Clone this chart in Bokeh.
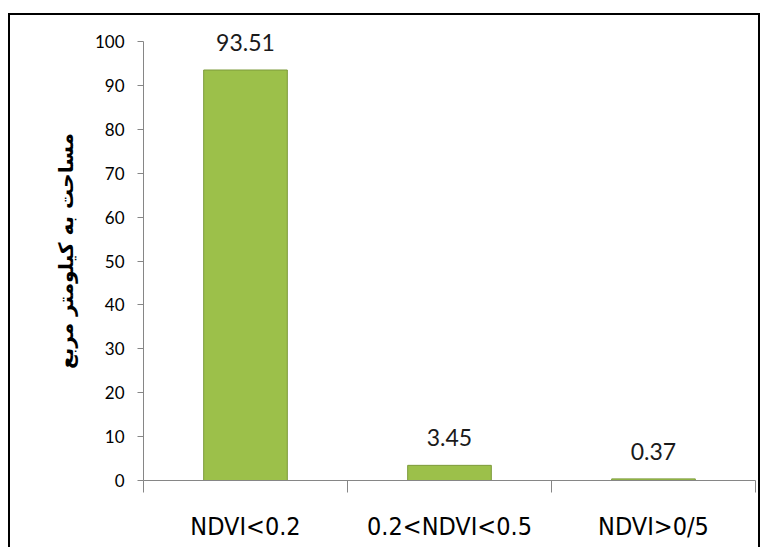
from bokeh.plotting import figure
from bokeh.models import ColumnDataSource, Range1d, FixedTicker, LabelSet
from bokeh.core.properties import value
from bokeh.embed import file_html
from bokeh.resources import INLINE

categories = ["NDVI<0.2", "0.2<NDVI<0.5", "NDVI>0/5"]
areas = [93.51, 3.45, 0.37]
area_labels = ["93.51", "3.45", "0.37"]
y_ticks = list(range(0, 101, 10))
y_title = "مساحت به کیلومتر مربع"

xs = [i + 0.5 for i in range(len(categories))]
src = ColumnDataSource(dict(x=xs, top=areas, lab=area_labels))

# frame extends a bit above 100 so the top data label is not clipped;
# the axis itself is bounded to 0..100
p = figure(width=752, height=534, output_backend="svg", toolbar_location=None,
           x_range=Range1d(0, len(categories)), y_range=Range1d(0, 104.56),
           min_border_left=133, min_border_right=7, min_border_top=6, min_border_bottom=69)
p.margin = (13, 0, 0, 8)
p.styles = {"border": "2px solid black", "border-bottom": "none"}
p.outline_line_color = None
p.xgrid.grid_line_color = None
p.ygrid.grid_line_color = None
p.background_fill_color = "white"
p.border_fill_color = "white"

p.vbar(x="x", top="top", width=0.41, source=src, fill_color="#9CC04A",
       line_color="#7C9A3A", line_width=1)

labels = LabelSet(x="x", y="top", text="lab", source=src, text_align="center",
                  text_baseline="bottom", y_offset=19, text_font=value("Lato"),
                  text_font_size="23px", text_color="#1a1a1a")
p.add_layout(labels)

xa = p.xaxis[0]
xa.ticker = FixedTicker(ticks=xs, minor_ticks=list(range(len(categories) + 1)))
xa.major_label_overrides = {x: c for x, c in zip(xs, categories)}
xa.major_tick_out = 0
xa.major_tick_in = 0
xa.minor_tick_out = 12
xa.minor_tick_in = 0
xa.minor_tick_line_color = "#868686"
xa.axis_line_color = "#868686"
xa.major_label_text_font = "DejaVu Sans Condensed"
xa.major_label_text_font_size = "25px"
xa.major_label_text_color = "#000000"
xa.major_label_standoff = 19

ya = p.yaxis[0]
ya.ticker = FixedTicker(ticks=y_ticks, minor_ticks=[])
ya.bounds = (0, 100)
ya.major_tick_out = 6
ya.major_tick_in = 0
ya.major_tick_line_color = "#868686"
ya.axis_line_color = "#868686"
ya.major_label_text_font = "Lato"
ya.major_label_text_font_size = "17px"
ya.major_label_text_color = "#000000"
ya.major_label_standoff = 13
ya.axis_label = y_title
ya.axis_label_text_font = "DejaVu Sans"
ya.axis_label_text_font_style = "bold"
ya.axis_label_text_font_size = "20px"
ya.axis_label_text_color = "#000000"
ya.axis_label_standoff = 14

open("out.html", "w").write(file_html(p, INLINE))
